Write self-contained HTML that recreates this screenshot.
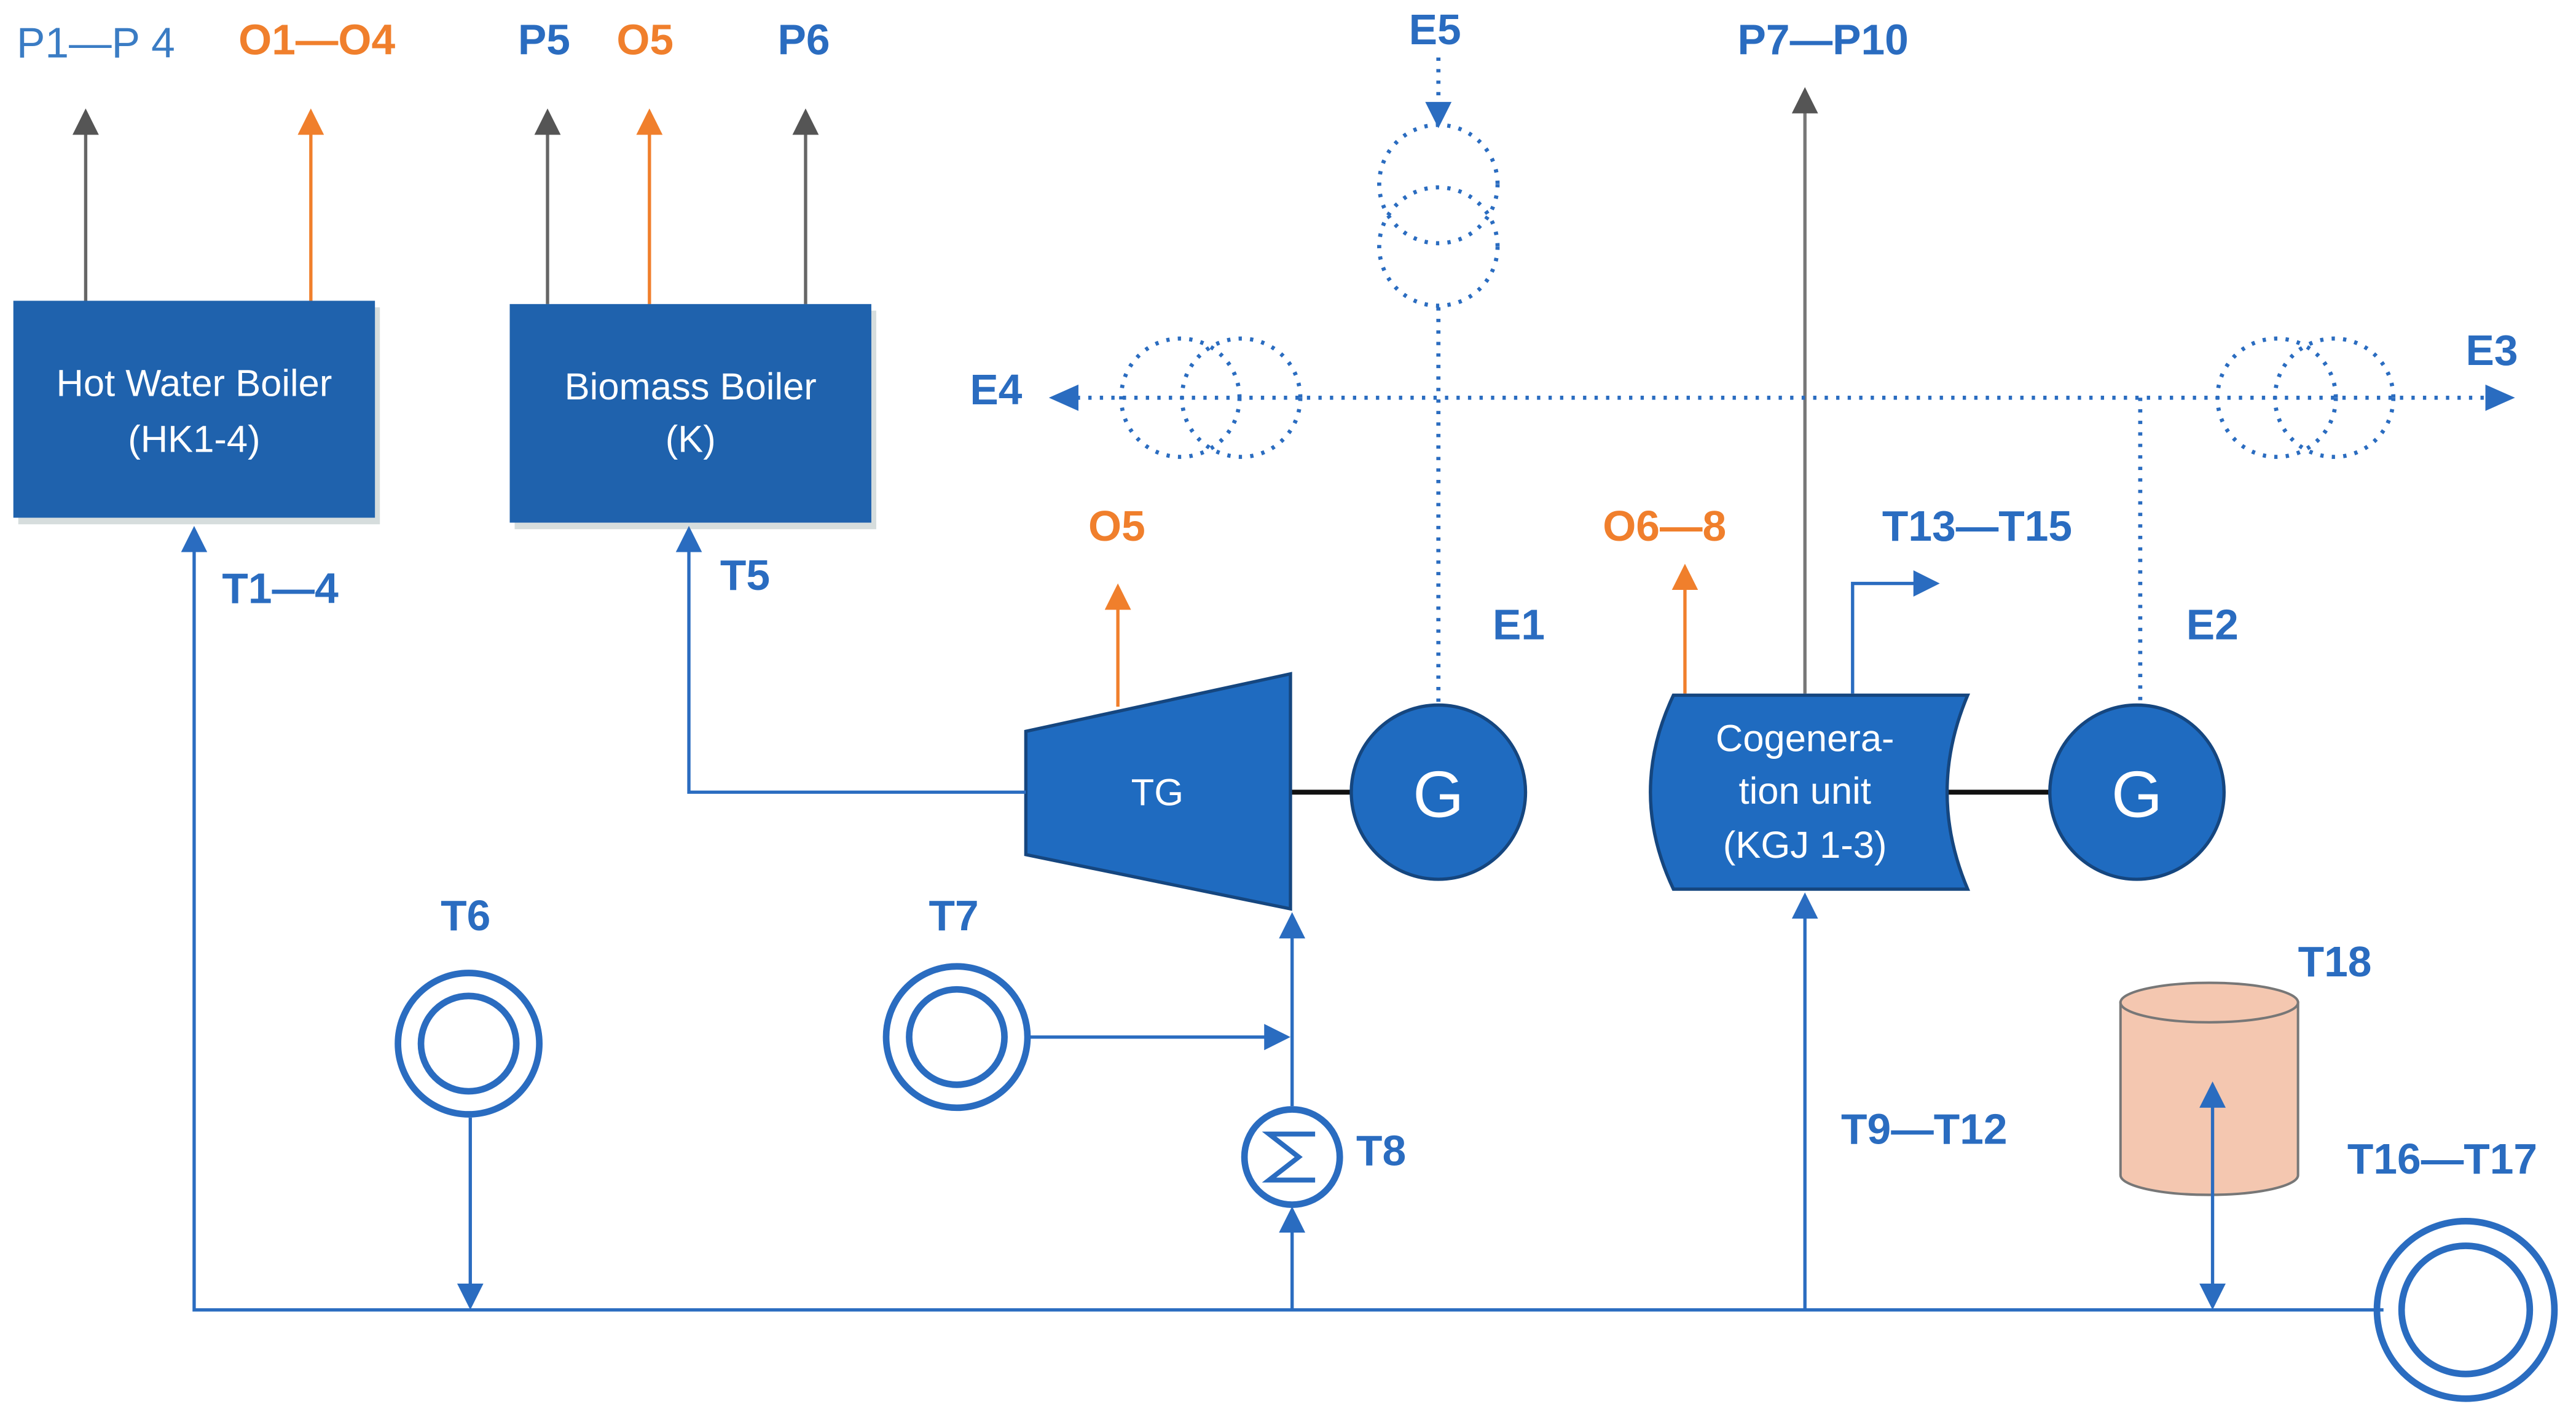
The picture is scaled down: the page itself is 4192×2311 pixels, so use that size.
<!DOCTYPE html>
<html><head><meta charset="utf-8"><style>
html,body{margin:0;padding:0;background:#fff}
svg{display:block}
text{font-family:"Liberation Sans",sans-serif}
.lb{fill:#2a6cc0;font-weight:bold;font-size:26px}
.lo{fill:#f07f2c;font-weight:bold;font-size:26px}
.wt{fill:#fff;font-size:23px}
</style></head><body>
<svg width="4192" height="2311" viewBox="0 0 1567 864" xmlns="http://www.w3.org/2000/svg">
<defs>
<marker id="ab2" markerWidth="16" markerHeight="16" refX="14" refY="8" orient="auto" markerUnits="userSpaceOnUse" viewBox="0 0 16 16"><path d="M0,0L16,8L0,16z" fill="#2a6cc0"/></marker>
<marker id="abr" markerWidth="16" markerHeight="16" refX="14" refY="8" orient="auto-start-reverse" markerUnits="userSpaceOnUse" viewBox="0 0 16 16"><path d="M0,0L16,8L0,16z" fill="#2a6cc0"/></marker>
<marker id="ag" markerWidth="16" markerHeight="16" refX="14" refY="8" orient="auto" markerUnits="userSpaceOnUse" viewBox="0 0 16 16"><path d="M0,0L16,8L0,16z" fill="#555"/></marker>
<marker id="ao" markerWidth="16" markerHeight="16" refX="14" refY="8" orient="auto" markerUnits="userSpaceOnUse" viewBox="0 0 16 16"><path d="M0,0L16,8L0,16z" fill="#f07f2c"/></marker>
</defs>
<text x="10" y="35" style="fill:#3a7cc4;font-size:26px">P1—P 4</text>
<text x="145" y="33" class="lo">O1—O4</text>
<text x="315" y="33" class="lb">P5</text>
<text x="375" y="33" class="lo">O5</text>
<text x="473" y="33" class="lb">P6</text>
<text x="857" y="27" class="lb">E5</text>
<text x="1057" y="33" class="lb">P7—P10</text>
<g stroke-width="2" fill="none">
<line x1="52" y1="183" x2="52" y2="68" stroke="#666" marker-end="url(#ag)"/>
<line x1="189" y1="183" x2="189" y2="68" stroke="#f07f2c" marker-end="url(#ao)"/>
<line x1="333" y1="185" x2="333" y2="68" stroke="#666" marker-end="url(#ag)"/>
<line x1="395" y1="185" x2="395" y2="68" stroke="#f07f2c" marker-end="url(#ao)"/>
<line x1="490" y1="185" x2="490" y2="68" stroke="#666" marker-end="url(#ag)"/>
<line x1="1098" y1="422" x2="1098" y2="55" stroke="#777" marker-end="url(#ag)"/>
<line x1="680" y1="430" x2="680" y2="357" stroke="#f07f2c" marker-end="url(#ao)"/>
<line x1="1025" y1="422" x2="1025" y2="345" stroke="#f07f2c" marker-end="url(#ao)"/>
<polyline points="1127,422 1127,355 1178,355" stroke="#2a6cc0" marker-end="url(#ab2)"/>
</g>
<rect x="11" y="187" width="220" height="132" fill="#9aa" opacity="0.4"/>
<rect x="8" y="183" width="220" height="132" fill="#1f62ad"/>
<text x="118" y="241" class="wt" text-anchor="middle">Hot Water Boiler</text>
<text x="118" y="275" class="wt" text-anchor="middle">(HK1-4)</text>
<rect x="313" y="189" width="220" height="133" fill="#9aa" opacity="0.4"/>
<rect x="310" y="185" width="220" height="133" fill="#1f62ad"/>
<text x="420" y="243" class="wt" text-anchor="middle">Biomass Boiler</text>
<text x="420" y="275" class="wt" text-anchor="middle">(K)</text>
<g stroke="#2a6cc0" stroke-width="2.5" stroke-dasharray="2 5" fill="none">
<line x1="875" y1="35" x2="875" y2="70"/>
<circle cx="875" cy="112" r="36"/>
<circle cx="875" cy="150" r="36"/>
<line x1="875" y1="187" x2="875" y2="428"/>
<line x1="655" y1="242" x2="1515" y2="242"/>
<circle cx="718" cy="242" r="36"/>
<circle cx="755" cy="242" r="36"/>
<circle cx="1385" cy="242" r="36"/>
<circle cx="1420" cy="242" r="36"/>
<line x1="1302" y1="242" x2="1302" y2="428"/>
</g>
<path d="M867,62L883,62L875,78z" fill="#2a6cc0"/>
<path d="M656,234L656,250L638,242z" fill="#2a6cc0"/>
<path d="M1512,234L1512,250L1530,242z" fill="#2a6cc0"/>
<text x="590" y="246" class="lb">E4</text>
<text x="1500" y="222" class="lb">E3</text>
<text x="908" y="389" class="lb">E1</text>
<text x="1330" y="389" class="lb">E2</text>
<text x="662" y="329" class="lo">O5</text>
<text x="975" y="329" class="lo">O6—8</text>
<text x="1145" y="329" class="lb">T13—T15</text>
<text x="135" y="367" class="lb">T1—4</text>
<text x="438" y="359" class="lb">T5</text>
<line x1="785" y1="482" x2="822" y2="482" stroke="#111" stroke-width="3"/>
<line x1="1183" y1="482" x2="1247" y2="482" stroke="#111" stroke-width="3"/>
<path d="M624,445L785,410L785,553L624,520z" fill="#1f6bc0" stroke="#15467f" stroke-width="2"/>
<text x="704" y="490" class="wt" text-anchor="middle">TG</text>
<circle cx="875" cy="482" r="53" fill="#1f6bc0" stroke="#15467f" stroke-width="2"/>
<text x="875" y="497" fill="#fff" font-size="40" text-anchor="middle">G</text>
<path d="M1018,423L1197,423Q1172,482 1197,541L1018,541Q990,482 1018,423z" fill="#1f6bc0" stroke="#15467f" stroke-width="2"/>
<text x="1098" y="457" class="wt" text-anchor="middle">Cogenera-</text>
<text x="1098" y="489" class="wt" text-anchor="middle">tion unit</text>
<text x="1098" y="522" class="wt" text-anchor="middle">(KGJ 1-3)</text>
<circle cx="1300" cy="482" r="53" fill="#1f6bc0" stroke="#15467f" stroke-width="2"/>
<text x="1300" y="497" fill="#fff" font-size="40" text-anchor="middle">G</text>
<g stroke="#2a6cc0" stroke-width="2" fill="none">
<polyline points="1450,797 118,797 118,322" marker-end="url(#ab2)"/>
<polyline points="624,482 419,482 419,322" marker-end="url(#ab2)"/>
<line x1="286" y1="680" x2="286" y2="795" marker-end="url(#ab2)"/>
<line x1="626" y1="631" x2="783" y2="631" marker-end="url(#ab2)"/>
<line x1="786" y1="797" x2="786" y2="736" marker-end="url(#ab2)"/>
<line x1="786" y1="673" x2="786" y2="557" marker-end="url(#ab2)"/>
<line x1="1098" y1="797" x2="1098" y2="545" marker-end="url(#ab2)"/>
</g>
<g stroke="#2a6cc0" stroke-width="4" fill="none">
<circle cx="285" cy="635" r="43"/><circle cx="285" cy="635" r="29"/>
<circle cx="582" cy="631" r="43"/><circle cx="582" cy="631" r="29"/>
<circle cx="1500" cy="797" r="54"/><circle cx="1500" cy="797" r="39"/>
<circle cx="786" cy="704" r="29" fill="#fff"/>
<polyline points="800,690 772,690 790,704 772,718 800,718" stroke-width="3"/>
</g>
<text x="268" y="566" class="lb">T6</text>
<text x="565" y="566" class="lb">T7</text>
<text x="825" y="709" class="lb">T8</text>
<text x="1120" y="696" class="lb">T9—T12</text>
<text x="1398" y="594" class="lb">T18</text>
<text x="1428" y="714" class="lb">T16—T17</text>
<path d="M1290,610L1290,715A54,12 0 0 0 1398,715L1398,610z" fill="#f4c7b0" stroke="#777" stroke-width="1.5"/>
<ellipse cx="1344" cy="610" rx="54" ry="12" fill="#f4c7b0" stroke="#777" stroke-width="1.5"/>
<line x1="1346" y1="660" x2="1346" y2="795" stroke="#2a6cc0" stroke-width="2" marker-start="url(#abr)" marker-end="url(#abr)"/>
</svg>
</body></html>
